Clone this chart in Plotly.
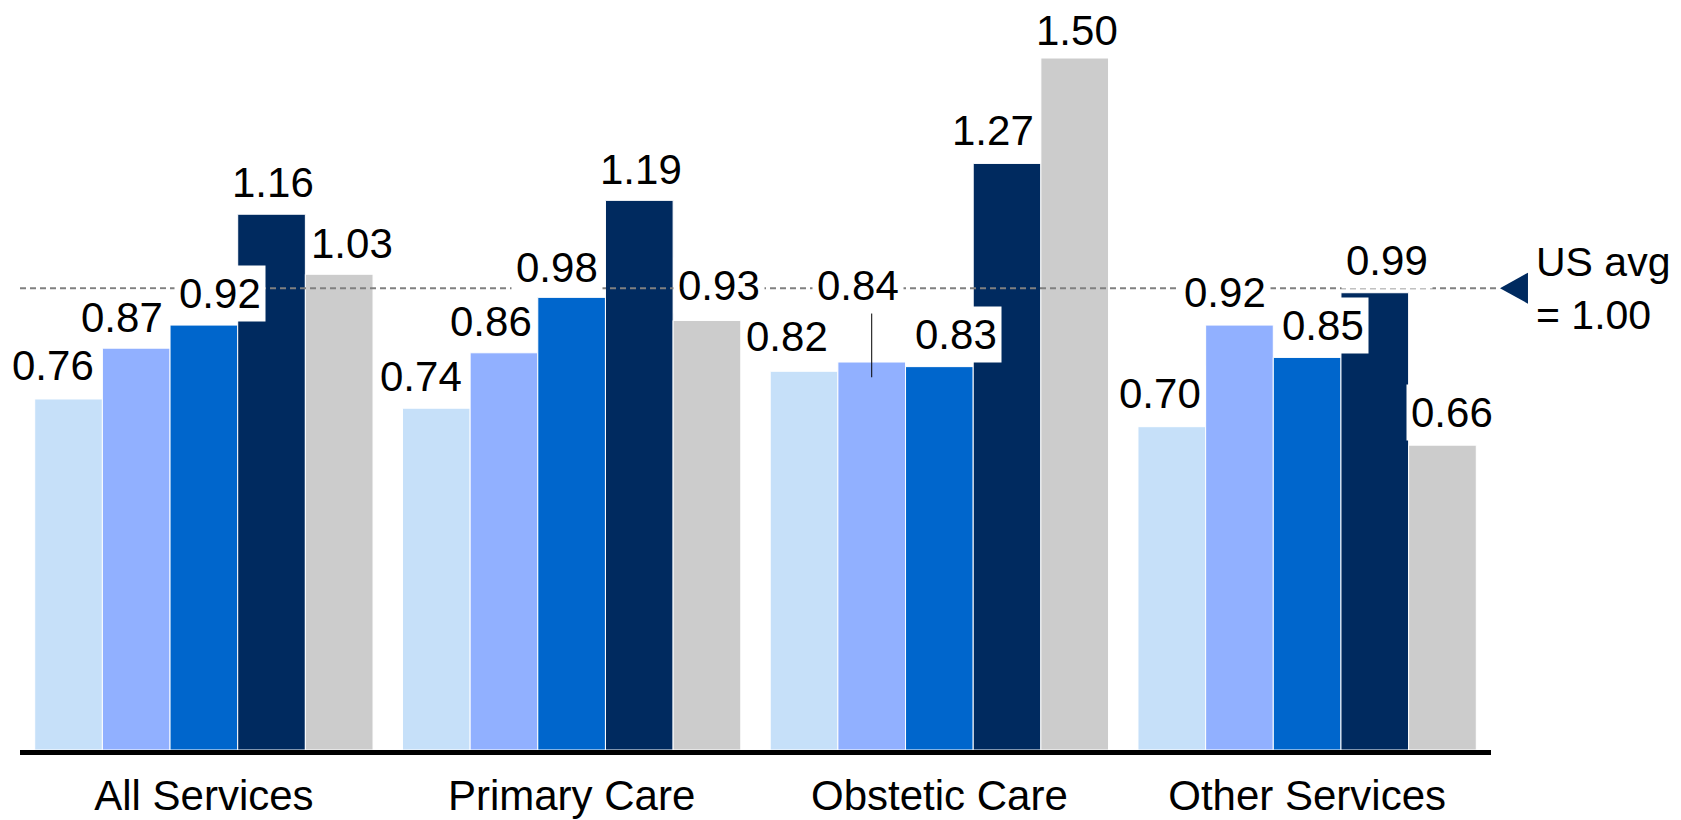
# -*- coding: utf-8 -*-

# Plotly: grouped bars of cost index by service type, US average = 1.00
from plotly import graph_objects as go

# Categories on the x axis
categories = ['All Services', 'Primary Care', 'Obstetic Care', 'Other Services']

# One series per bar colour, in group order (left to right)
series_1 = [0.76, 0.74, 0.82, 0.70]
series_2 = [0.87, 0.86, 0.84, 0.92]
series_3 = [0.92, 0.98, 0.83, 0.85]
series_4 = [1.16, 1.19, 1.27, 0.99]
series_5 = [1.03, 0.93, 1.50, 0.66]

us_avg = 1.00
us_avg_text = 'US avg<br>= 1.00'

series_ = [series_1, series_2, series_3, series_4, series_5]
colors_ = ['#C6E0F9', '#91B0FF', '#0066CC', '#002A5F', '#CCCCCC']

# Label nudges in pixels [series][category]
label_dx_ = [[-16, -15, -17, -12],
             [-14, -13, -14, -14],
             [16, -15, 17, 16],
             [1, 2, -14, 12],
             [13, 12, 2, 10]]
label_dy_ = [[32, 31, 34, 32],
             [30, 30, 76, 32],
             [31, 29, 31, 31],
             [31, 30, 32, 31],
             [30, 34, 26, 32]]

font_ = 'Liberation Sans, Arial, sans-serif'
font_size_ = 42
n_series_ = len(series_)
bargap_ = 0.08
bar_w_ = (1 - bargap_) / n_series_

fig = go.Figure()

for s_, vals_ in enumerate(series_):
    fig.add_trace(go.Bar(x=categories,
                         y=vals_,
                         marker=dict(color=colors_[s_], line=dict(color='white', width=1)),
                         showlegend=False,
                         hoverinfo='skip'))

# Value labels
for s_, vals_ in enumerate(series_):
    for c_, v_ in enumerate(vals_):
        fig.add_annotation(x=c_ + (s_ - (n_series_ - 1) / 2) * bar_w_,
                           y=v_,
                           text=f'{v_:.2f}',
                           showarrow=False,
                           xanchor='center', yanchor='middle',
                           xshift=label_dx_[s_][c_],
                           yshift=label_dy_[s_][c_] + 1,
                           bgcolor='white',
                           borderpad=4,
                           font=dict(family=font_, size=font_size_, color='black'))

# Leader line for the raised 0.84 label
c_ = 2
s_ = 1
x_lead_ = c_ + (s_ - (n_series_ - 1) / 2) * bar_w_
fig.add_shape(type='line', xref='x', yref='y',
              x0=x_lead_, x1=x_lead_,
              y0=series_[s_][c_] - 0.033, y1=series_[s_][c_] + 0.106,
              line=dict(color='black', width=1), layer='above')

# US average reference line, marker and text
fig.add_shape(type='line', xref='paper', yref='y',
              x0=0, x1=1.006, y0=us_avg, y1=us_avg,
              line=dict(color='#808080', width=2, dash='6px,4px'), layer='above')
fig.add_shape(type='path', xref='paper', yref='y',
              xsizemode='pixel', ysizemode='pixel',
              xanchor=1.0061, yanchor=us_avg,
              path='M0,0 L28,15.5 L28,-15.5 Z',
              fillcolor='#002A5F', line=dict(width=0))
fig.add_annotation(xref='paper', yref='y', x=1.030, y=us_avg,
                   text=us_avg_text, showarrow=False,
                   xanchor='left', yanchor='middle', align='left',
                   borderpad=0,
                   font=dict(family=font_, size=41, color='black'))

# Page body keeps an 8 px margin at top/left; size the figure to reach the window edge
fig.update_layout(width=1673, height=812,
                  barmode='group', bargap=bargap_, bargroupgap=0,
                  plot_bgcolor='white', paper_bgcolor='white',
                  margin=dict(t=3, b=70, l=12, r=190, autoexpand=False),
                  font=dict(family=font_, color='black'))
fig.update_xaxes(range=[-0.5, len(categories) - 0.5], automargin=False,
                 showline=True, linewidth=5, linecolor='black',
                 ticks='', showgrid=False, zeroline=False,
                 ticklabelstandoff=5,
                 tickfont=dict(family=font_, size=font_size_, color='black'))
fig.update_yaxes(range=[0, 1.6], automargin=False,
                 visible=False, showgrid=False, zeroline=False)

fig.write_html('out.html')
